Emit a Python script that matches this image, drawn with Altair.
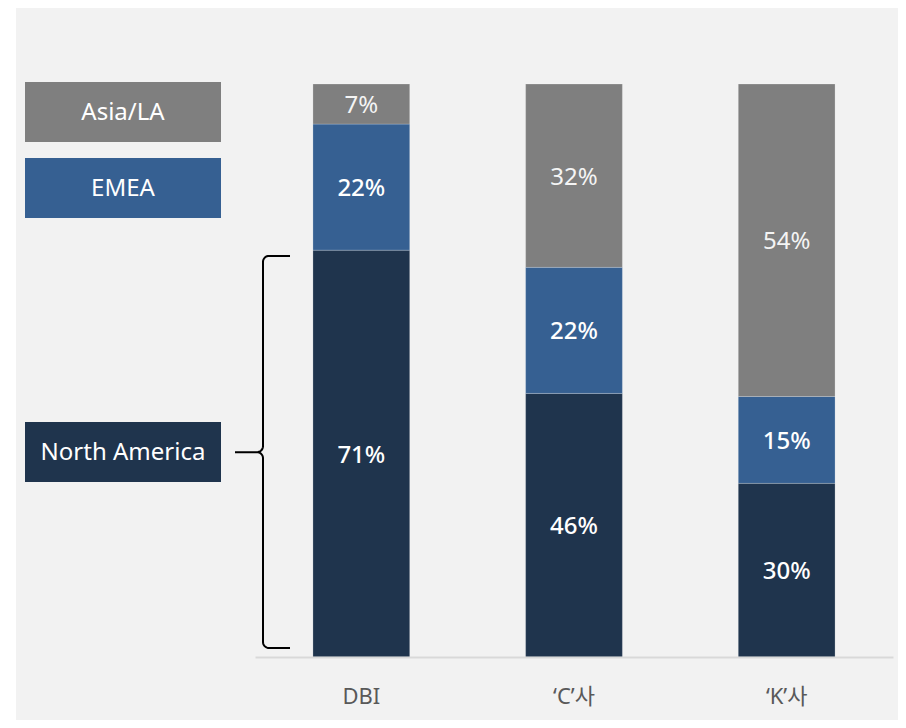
import altair as alt
import pandas as pd
import numpy as np

# ---- data ----
companies = ["DBI", "‘C’사", "‘K’사"]
regions = ["North America", "EMEA", "Asia/LA"]
north_america = [71, 46, 30]
emea = [22, 22, 15]
asia_la = [7, 32, 54]

FONT = "Noto Sans, Noto Sans CJK KR"
colors = ["#1f344d", "#366092", "#7f7f7f"]

rows = []
for ci, c in enumerate(companies):
    vals = {"North America": north_america[ci], "EMEA": emea[ci], "Asia/LA": asia_la[ci]}
    total = sum(vals.values())
    cum = 0
    for oi, r in enumerate(regions):
        v = vals[r]
        rows.append(dict(company=c, region=r, value=v, order=oi,
                         mid=(cum + v / 2) / total, label=f"{v}%"))
        cum += v
df = pd.DataFrame(rows)

W, H = 638, 573
color_scale = alt.Scale(domain=regions, range=colors)
yscale = alt.Scale(domain=[0, 1], nice=False)
xscale = alt.Scale(paddingInner=0.545, paddingOuter=0.2725)

x_axis = alt.Axis(title=None, labelAngle=0, ticks=False, domainColor="#d9d9d9",
                  domainWidth=2, labelFontSize=22, labelColor="#595959",
                  labelPadding=29, labelFont=FONT, grid=False, zindex=1)
x_enc = alt.X("company:N", sort=companies, scale=xscale, axis=x_axis)

bars = alt.Chart(df).mark_bar(stroke="#ffffff", strokeWidth=0.6, strokeOpacity=0.35).encode(
    x=x_enc,
    y=alt.Y("value:Q", stack="normalize", scale=yscale, axis=None),
    color=alt.Color("region:N", scale=color_scale, legend=None),
    order=alt.Order("order:Q"),
)

txt_dark = alt.Chart(df).transform_filter(alt.datum.region != "Asia/LA").mark_text(
    color="white", fontSize=24, font=FONT, fontWeight=500, baseline="middle", dy=2
).encode(x=x_enc, y=alt.Y("mid:Q", scale=yscale, axis=None), text="label:N")

txt_gray = alt.Chart(df).transform_filter(alt.datum.region == "Asia/LA").mark_text(
    color="#f4f4f4", fontSize=24, font=FONT, fontWeight="normal", baseline="middle", dy=2
).encode(x=x_enc, y=alt.Y("mid:Q", scale=yscale, axis=None), text="label:N")

main = alt.layer(bars, txt_dark, txt_gray)

# decorative background (page has white margin on the left)
bg = alt.Chart(alt.Data(values=[{}])).mark_rect(color="#f2f2f2").encode(
    x=alt.value(-239), x2=alt.value(W + 10), y=alt.value(-80), y2=alt.value(H + 80)
)

# legend boxes on the left (decorative annotation)
box_top = {"Asia/LA": -2, "EMEA": 74, "North America": 338}
legend_layers = []
for r in regions:
    d = alt.Data(values=[{"region": r}])
    t = box_top[r]
    legend_layers.append(
        alt.Chart(d).mark_rect().encode(
            x=alt.value(-230), x2=alt.value(-34), y=alt.value(t), y2=alt.value(t + 60),
            color=alt.Color("region:N", scale=color_scale, legend=None),
        )
    )
    legend_layers.append(
        alt.Chart(d).mark_text(color="white", fontSize=24, font=FONT, baseline="middle", dy=1).encode(
            x=alt.value(-132), y=alt.value(t + 30), text="region:N"
        )
    )

# curly brace next to North America (decorative shape)
rx, ry = 6.0, 6.0 / H
top_y, bot_y, mid_y = 0.700, 0.0157, 0.3575
xv, xarm, xtip = 8.0, 35.0, -20.0
pts = [(xarm, top_y), (xv + rx, top_y)]
for th in np.linspace(np.pi / 2, np.pi, 10)[1:]:
    pts.append((xv + rx + rx * np.cos(th), top_y - ry + ry * np.sin(th)))
pts.append((xv, mid_y + ry))
for th in np.linspace(0, -np.pi / 2, 10)[1:]:
    pts.append((xv - rx + rx * np.cos(th), mid_y + ry + ry * np.sin(th)))
pts.append((xtip, mid_y))
pts.append((xv - rx, mid_y))
for th in np.linspace(np.pi / 2, 0, 10)[1:]:
    pts.append((xv - rx + rx * np.cos(th), mid_y - ry + ry * np.sin(th)))
pts.append((xv, bot_y + ry))
for th in np.linspace(np.pi, 1.5 * np.pi, 10)[1:]:
    pts.append((xv + rx + rx * np.cos(th), bot_y + ry + ry * np.sin(th)))
pts.append((xarm, bot_y))
brace_df = pd.DataFrame({"bx": [p[0] for p in pts], "by": [p[1] for p in pts], "i": list(range(len(pts)))})

brace = alt.Chart(brace_df).mark_line(color="black", strokeWidth=2).encode(
    x=alt.X("bx:Q", scale=alt.Scale(domain=[0, W], nice=False, zero=False), axis=None),
    y=alt.Y("by:Q", scale=yscale, axis=None),
    order="i:Q",
)

chart = alt.layer(bg, main, brace, *legend_layers).resolve_scale(
    x="independent"
).properties(
    width=W, height=H,
    padding={"left": 247, "top": 76, "right": 5, "bottom": 63},
    autosize="none",
    background="white",
).configure_view(stroke=None)

chart.save("out.html", embed_options={"renderer": "svg", "actions": False})
